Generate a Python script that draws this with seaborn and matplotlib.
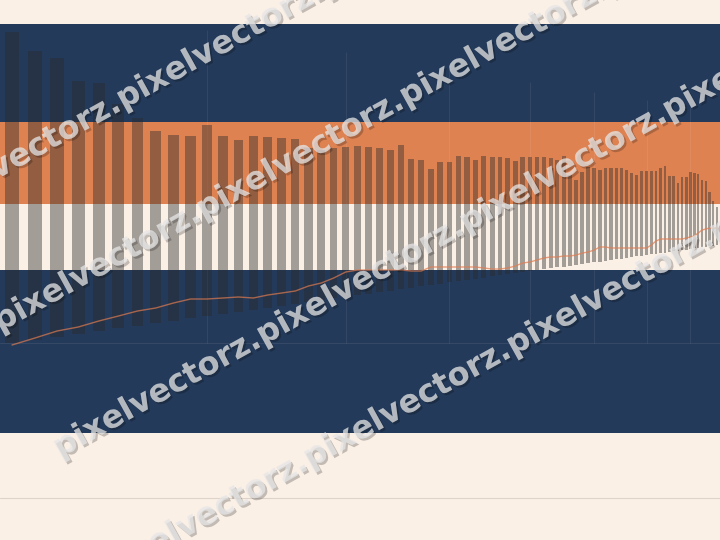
import numpy as np
import seaborn as sns
import matplotlib.pyplot as plt
import matplotlib.patheffects as pe
from matplotlib.lines import Line2D

# one bar per period
periods = list(range(78))

bar_tops = [401, 382, 375, 352, 350, 329, 315, 302, 298, 297, 308, 297, 293,
            297, 296, 295, 294, 285, 283, 285, 286, 287, 286, 285, 283, 288,
            274, 273, 264, 271, 271, 277, 276, 273, 277, 276, 276, 275, 272,
            276, 276, 276, 276, 275, 273, 277, 258, 253, 261, 266, 265, 263,
            265, 265, 265, 265, 263, 260, 258, 262, 262, 262, 262, 265, 267,
            257, 257, 250, 256, 256, 261, 260, 259, 253, 252, 241, 232, 226]

bar_bottoms = [90, 93, 96, 99, 102, 105, 107, 110, 112, 115, 117, 119, 121,
               123, 125, 127, 129, 131, 133, 135, 136, 138, 139, 141, 142, 144,
               145, 147, 148, 149, 151, 152, 153, 154, 155, 157, 158, 159, 160,
               161, 162, 163, 164, 165, 166, 166, 167, 168, 169, 170, 171, 171,
               172, 173, 174, 174, 175, 176, 177, 177, 178, 179, 179, 180, 180,
               181, 182, 182, 183, 183, 184, 185, 185, 186, 186, 187, 187, 188]

trend = [88, 95, 102, 106, 112, 117, 122, 125, 130, 134, 134, 135, 136, 135,
         138, 140, 142, 147, 150, 155, 161, 163, 163, 163, 163, 163, 162, 162,
         166, 166, 166, 166, 166, 166, 165, 164, 164, 165, 167, 170, 171, 173,
         175, 176, 176, 177, 177, 178, 180, 181, 183, 186, 186, 185, 185, 185,
         185, 185, 185, 185, 185, 188, 192, 194, 194, 194, 194, 194, 194, 195,
         196, 197, 200, 203, 204, 205, 205, 205]

grid_at = [10, 20, 30, 40, 50, 60, 70]
grid_tops = [403, 381, 364, 351, 341, 333, 326]

watermark = "pixelvectorz."

NAVY = "#243a5a"
ORANGE = "#de8252"
CREAM = "#faf0e6"

sns.set_theme(style="white", rc={"figure.facecolor": CREAM,
                                 "axes.facecolor": NAVY})

# the chart is seen at an angle: periods get squeezed to the right
k = 0.0203


def squeeze(u):
    u = np.asarray(u, dtype=float)
    return u / (1 + k * u)


def unsqueeze(v):
    v = np.asarray(v, dtype=float)
    return v / (1 - k * v)


fig = plt.figure(figsize=(7.2, 5.4), dpi=100)
ax = fig.add_axes([0, 107 / 540, 1, 409 / 540])
ax.set_xscale("function", functions=(squeeze, unsqueeze))
ax.set_xlim(-0.506, 77.9)
ax.set_ylim(0, 409)

ax.axhspan(229, 311, color=ORANGE, lw=0, zorder=0.5)
ax.axhspan(163, 229, color=CREAM, lw=0, zorder=0.5)
ax.axhline(90, color="white", alpha=0.08, lw=0.8, zorder=0.6)
ax.vlines(grid_at, 90, grid_tops, color="white", alpha=0.07, lw=0.8, zorder=0.6)

heights = np.array(bar_tops) - np.array(bar_bottoms)
ax.bar(periods, heights, bottom=bar_bottoms, width=0.62, color="#2b2b2b",
       alpha=0.42, lw=0, zorder=2)
sns.lineplot(x=periods, y=trend, ax=ax, color="#e07b4f", lw=1.0, alpha=0.7,
             zorder=3)

ax.set_xticks([])
ax.set_yticks([])
ax.set_xlabel("")
ax.set_ylabel("")
for s in ax.spines.values():
    s.set_visible(False)

fig.add_artist(Line2D([0, 1], [42 / 540, 42 / 540], color="#ddd3c8", lw=0.8,
                      transform=fig.transFigure))

# watermark rows (start x, baseline y) in pixels
rows = [(-80, 222), (0, 332), (60, 458), (107, 581)]
for x0, y0 in rows:
    fig.text(x0 / 720, (540 - y0) / 540, watermark * 5, rotation=29,
             rotation_mode="anchor", ha="left", va="baseline",
             fontsize=23, fontweight="bold", color="#e6e6e6", alpha=0.5,
             zorder=10,
             path_effects=[pe.withSimplePatchShadow(offset=(1.5, -1.5),
                                                    shadow_rgbFace="black",
                                                    alpha=0.22),
                           pe.Normal()])

fig.savefig("out.png", dpi=100)
